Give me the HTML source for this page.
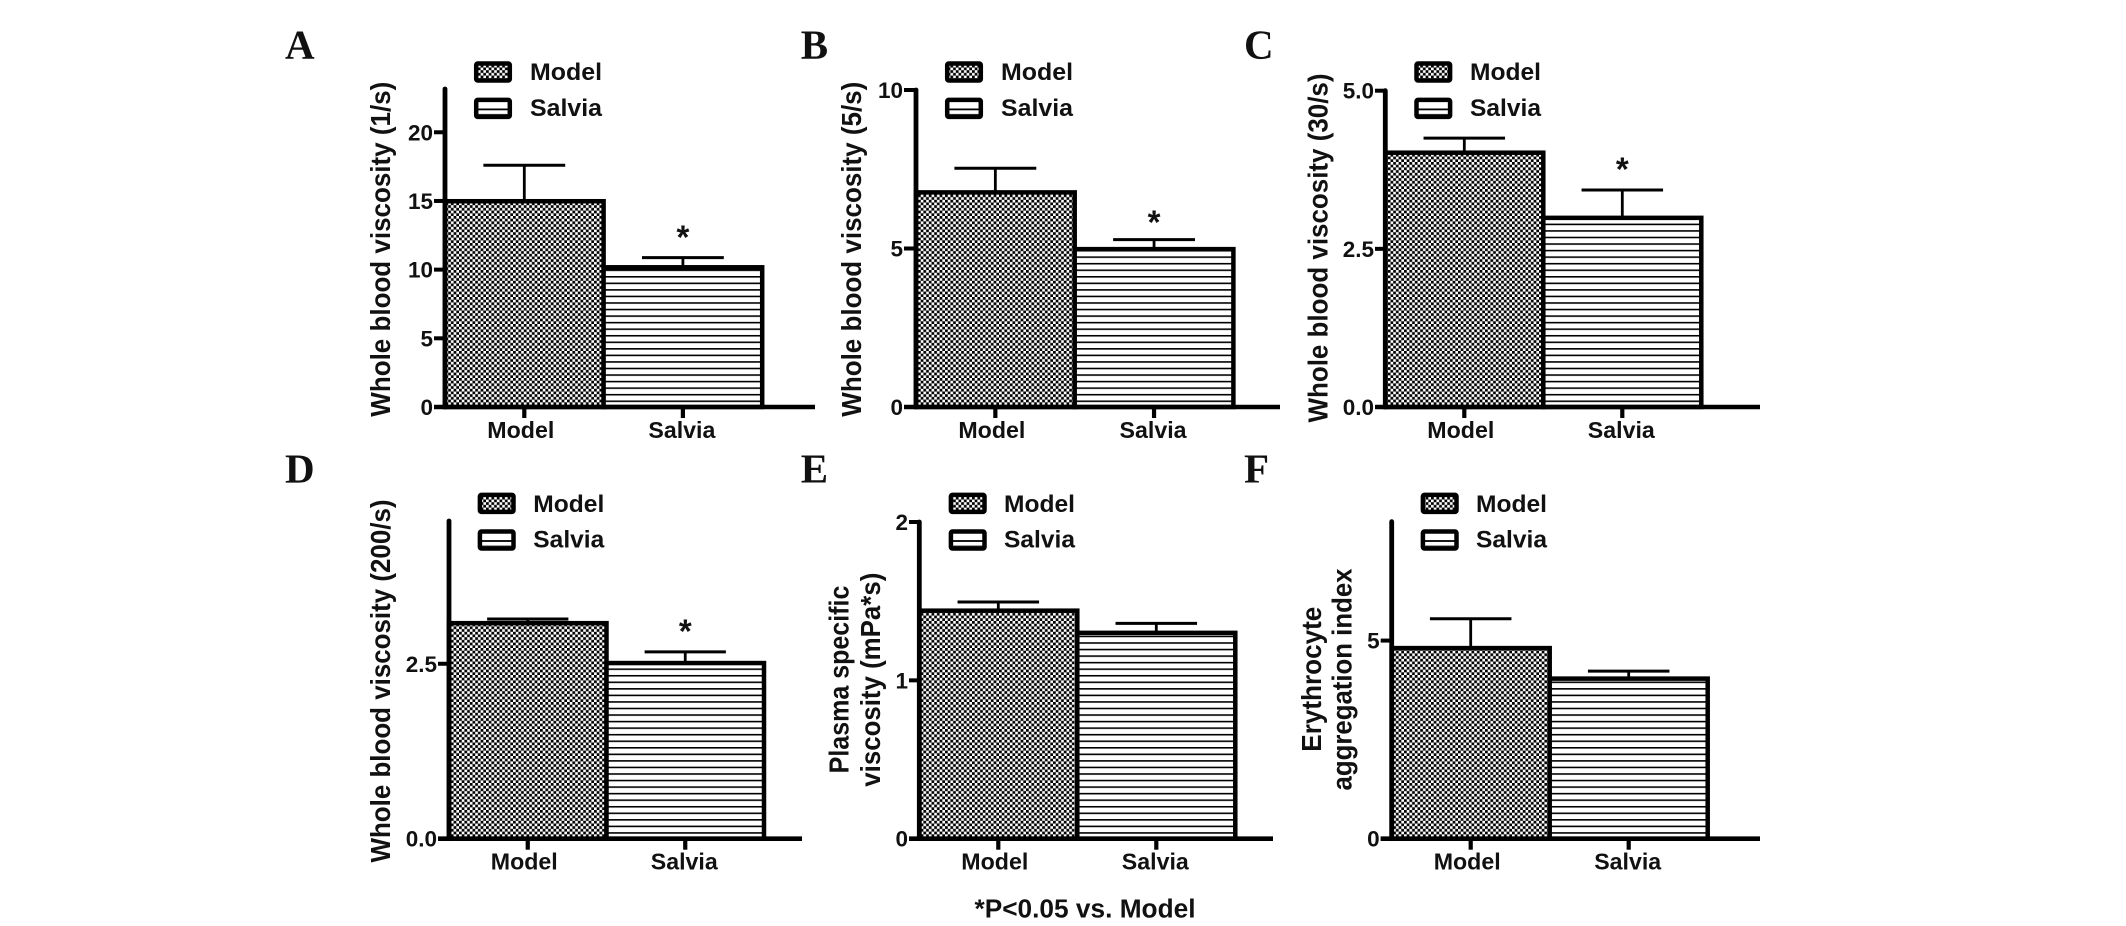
<!DOCTYPE html>
<html lang="en">
<head>
<meta charset="utf-8">
<title>Blood viscosity bar charts</title>
<style>
  html, body { margin: 0; padding: 0; background: #fff; }
  body { width: 2126px; height: 926px; overflow: hidden; }
  svg { display: block; }
  text { font-family: "Liberation Sans", Arial, sans-serif; font-weight: bold; fill: #111; }
  text.letter { font-family: "Liberation Serif", "Times New Roman", serif; }
</style>
</head>
<body>
<svg id="figure" xmlns="http://www.w3.org/2000/svg" width="2126" height="926" viewBox="0 0 2126 926">
  <defs id="defs">
    <pattern id="checker" patternUnits="userSpaceOnUse" width="5.4" height="5.4">
      <rect width="5.4" height="5.4" fill="#fff"/>
      <rect width="2.75" height="2.75" fill="#000"/>
      <rect x="2.7" y="2.7" width="2.75" height="2.75" fill="#000"/>
    </pattern>
  </defs>
  <rect width="2126" height="926" fill="#fff"/>
  <text x="974.5" y="917.3" font-size="25.5" textLength="221" lengthAdjust="spacingAndGlyphs">*P&lt;0.05 vs. Model</text>
</svg>
<script>
const panelLetters = ['A', 'B', 'C', 'D', 'E', 'F'];
const categories = ['Model', 'Salvia'];
const modelMeans = [14.98, 6.77, 4.02, 3.08, 1.44, 4.81];
const salviaMeans = [10.17, 4.98, 2.99, 2.51, 1.30, 4.04];
const modelErrors = [2.62, 0.76, 0.23, 0.06, 0.055, 0.74];
const salviaErrors = [0.70, 0.30, 0.44, 0.16, 0.06, 0.19];
const salviaSignificant = [true, true, true, true, false, false];
const yMaxValues = [23.15, 10, 5, 4.54, 2, 8];
const yTickLabels = [
  ['0', '5', '10', '15', '20'],
  ['0', '5', '10'],
  ['0.0', '2.5', '5.0'],
  ['0.0', '2.5'],
  ['0', '1', '2'],
  ['0', '5']
];
const yTitles = [
  ['Whole blood viscosity (1/s)'],
  ['Whole blood viscosity (5/s)'],
  ['Whole blood viscosity (30/s)'],
  ['Whole blood viscosity (200/s)'],
  ['Plasma specific', 'viscosity (mPa*s)'],
  ['Erythrocyte', 'aggregation index']
];

/* Panel geometry (layout only, no data values) */
const layouts = [
  { axisX: 445, baseY: 407, topY: 89, band: 158.6, tickLeft: 434, xEnd: 815, starGap: 24.4,
    letterX: 285, letterY: 58.3, swatchX: 474, swatchY: [61.3, 97.7], legendX: 530, legendY: [80, 116], legendW: 72, catW: 67,
    titleX: [390], titleY: [249.2], titleLen: [335] },
  { axisX: 916, baseY: 407, topY: 90, band: 158.7, tickLeft: 904, xEnd: 1280, starGap: 21.3,
    letterX: 800.7, letterY: 58.3, swatchX: 945, swatchY: [61.3, 97.7], legendX: 1001, legendY: [80, 116], legendW: 72, catW: 67,
    titleX: [861], titleY: [249.2], titleLen: [335] },
  { axisX: 1385.3, baseY: 407, topY: 90.7, band: 158, tickLeft: 1375, xEnd: 1760, starGap: 24.3,
    letterX: 1244, letterY: 58.3, swatchX: 1414.3, swatchY: [61.3, 97.7], legendX: 1470, legendY: [80, 116], legendW: 71, catW: 67,
    titleX: [1327.7], titleY: [248], titleLen: [349] },
  { axisX: 449, baseY: 838.7, topY: 521, band: 157.5, tickLeft: 438, xEnd: 802, starGap: 24.4,
    letterX: 285, letterY: 482.7, swatchX: 477.7, swatchY: [492.7, 529.3], legendX: 533.3, legendY: [512, 547.7], legendW: 71, catW: 67,
    titleX: [390], titleY: [681], titleLen: [363] },
  { axisX: 919.3, baseY: 838.7, topY: 522, band: 158, tickLeft: 909, xEnd: 1273, starGap: 24,
    letterX: 800.7, letterY: 482.7, swatchX: 948.7, swatchY: [492.7, 529.3], legendX: 1004, legendY: [512, 547.7], legendW: 71, catW: 67,
    titleX: [848.3, 880], titleY: [679.5, 679.7], titleLen: [187.7, 214] },
  { axisX: 1391.7, baseY: 838.7, topY: 521.7, band: 158, tickLeft: 1380.7, xEnd: 1760, starGap: 24,
    letterX: 1244, letterY: 482.7, swatchX: 1420.7, swatchY: [492.7, 529.3], legendX: 1476, legendY: [512, 547.7], legendW: 71, catW: 67,
    titleX: [1321, 1351.7], titleY: [679.2, 679.5], titleLen: [145, 222] }
];

const SVG_NS = 'http://www.w3.org/2000/svg';
const figure = document.getElementById('figure');
const defs = document.getElementById('defs');

function make(tag, parent, attrs, content) {
  const node = document.createElementNS(SVG_NS, tag);
  for (const key in attrs) node.setAttribute(key, attrs[key]);
  if (content !== undefined) node.textContent = content;
  parent.appendChild(node);
  return node;
}

function yScale(p) {
  const L = layouts[p];
  return function (v) { return L.baseY - (v / yMaxValues[p]) * (L.baseY - L.topY); };
}

function xBandLeft(p, i) {
  return layouts[p].axisX + layouts[p].band * i;
}

function xBandCenter(p, i) {
  return layouts[p].axisX + layouts[p].band * (i + 0.5);
}

const LINE_PERIOD = 6.55;

panelLetters.forEach(function (letter, p) {
  const L = layouts[p];
  const y = yScale(p);
  const means = [modelMeans[p], salviaMeans[p]];
  const errors = [modelErrors[p], salviaErrors[p]];

  const linePattern = make('pattern', defs, {
    id: 'lines-' + p, patternUnits: 'userSpaceOnUse', width: 10, height: LINE_PERIOD,
    patternTransform: 'translate(0,' + L.baseY + ')'
  });
  make('rect', linePattern, { width: 10, height: LINE_PERIOD, fill: '#fff' });
  make('rect', linePattern, { y: 0, width: 10, height: 1.6, fill: '#000' });

  const panel = make('g', figure, {});
  
  

  const panelLabel = make('text', panel, { class: 'letter', x: L.letterX, y: L.letterY, 'font-size': 41 }, letter);
  
  

  categories.forEach(function (cat, i) {
    const left = xBandLeft(p, i);
    const top = y(means[i]);
    const bar = make('rect', panel, {
      x: left, y: top, width: L.band, height: L.baseY - top,
      fill: i === 0 ? 'url(#checker)' : 'url(#lines-' + p + ')',
      stroke: '#000', 'stroke-width': 4.5
    });
    
    

    const cx = xBandCenter(p, i);
    const errTop = y(means[i] + errors[i]);
    const stem = make('line', panel, { x1: cx, x2: cx, y1: top, y2: errTop, stroke: '#000', 'stroke-width': 2.8 });
    
    

    const capHalf = L.band * 0.258;
    const cap = make('line', panel, { x1: cx - capHalf, x2: cx + capHalf, y1: errTop, y2: errTop, stroke: '#000', 'stroke-width': 3 });
    
    

    const xTick = make('line', panel, { x1: cx, x2: cx, y1: L.baseY, y2: L.baseY + 11, stroke: '#000', 'stroke-width': 4.2 });
    
    

    const catLabel = make('text', panel, {
      x: cx + (i === 0 ? -3.5 : -1), y: L.baseY + 31, 'font-size': 23.5, 'text-anchor': 'middle',
      textLength: L.catW, lengthAdjust: 'spacingAndGlyphs'
    }, cat);
    
    

    if (i === 1 && salviaSignificant[p]) {
      const star = make('text', panel, { x: cx, y: errTop - L.starGap + 15, 'font-size': 33, 'text-anchor': 'middle' }, '*');
      
      
    }
  });

  const yAxis = make('line', panel, { x1: L.axisX, x2: L.axisX, y1: L.baseY, y2: L.topY, stroke: '#000', 'stroke-width': 4.8, 'stroke-linecap': 'round' });
  
  

  const xAxis = make('line', panel, { x1: L.tickLeft, x2: L.xEnd, y1: L.baseY, y2: L.baseY, stroke: '#000', 'stroke-width': 4.6 });
  
  

  yTickLabels[p].forEach(function (label) {
    const ty = y(parseFloat(label));
    const yTick = make('line', panel, { x1: L.tickLeft, x2: L.axisX, y1: ty, y2: ty, stroke: '#000', 'stroke-width': 4 });
    
    

    const yLabel = make('text', panel, { x: L.tickLeft - 1, y: ty + 8, 'font-size': 22.5, 'text-anchor': 'end' }, label);
    
    
  });

  yTitles[p].forEach(function (line, k) {
    const title = make('text', panel, {
      transform: 'translate(' + L.titleX[k] + ',' + L.titleY[k] + ') rotate(-90)',
      'font-size': 27.5, 'text-anchor': 'middle', textLength: L.titleLen[k], lengthAdjust: 'spacingAndGlyphs'
    }, line);
    
    
  });

  categories.forEach(function (cat, i) {
    const entry = make('g', panel, {});
    
    

    const sx = L.swatchX + 2.2;
    const sy = L.swatchY[i] + 2.2;
    const sw = 33.6;
    const sh = 17;
    make('rect', entry, { x: sx, y: sy, width: sw, height: sh, fill: i === 0 ? 'url(#checker)' : '#fff' });
    if (i === 1) {
      make('rect', entry, { x: sx, y: sy + sh - 8.4, width: sw, height: 1.8, fill: '#000' });
      make('rect', entry, { x: sx, y: sy + sh - 3, width: sw, height: 2, fill: '#444' });
    }
    const swatch = make('rect', entry, { x: sx, y: sy, width: sw, height: sh, rx: 1.5, fill: 'none', stroke: '#000', 'stroke-width': 4.5 });
    
    

    const legendLabel = make('text', entry, {
      x: L.legendX, y: L.legendY[i], 'font-size': 24.5, textLength: L.legendW, lengthAdjust: 'spacingAndGlyphs'
    }, cat);
    
    
  });
});
</script>
</body>
</html>
